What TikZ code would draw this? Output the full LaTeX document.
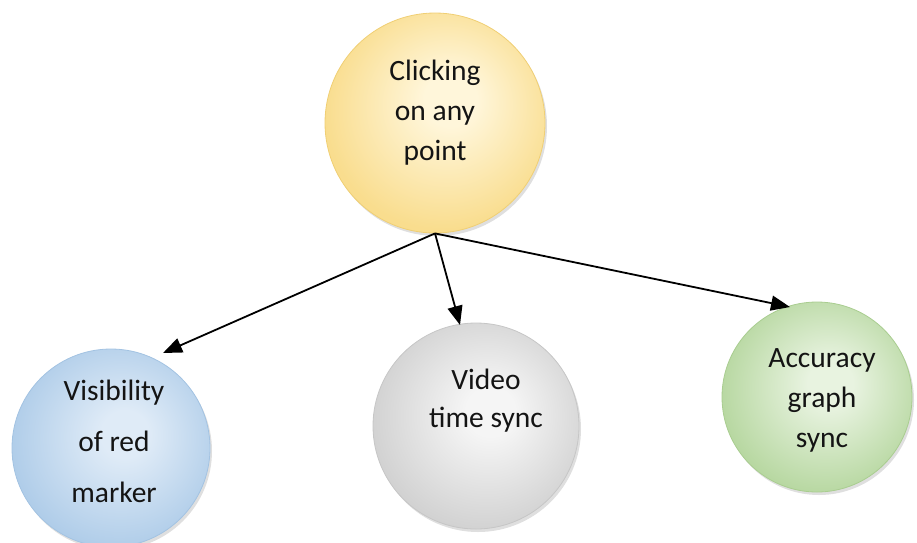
\documentclass[tikz,border=0pt]{standalone}
\usepackage{fontspec}
\setmainfont{Carlito}
\usetikzlibrary{arrows.meta,shadows}
\definecolor{yin}{HTML}{FFF6DA}
\definecolor{yout}{HTML}{F9DD8E}
\definecolor{yedge}{HTML}{F0CF74}
\definecolor{bin}{HTML}{DFEBF7}
\definecolor{bout}{HTML}{B0CDE9}
\definecolor{bedge}{HTML}{A3C3E2}
\definecolor{gin}{HTML}{F5F5F5}
\definecolor{gout}{HTML}{D2D2D2}
\definecolor{gedge}{HTML}{C6C6C6}
\definecolor{nin}{HTML}{E8F3E0}
\definecolor{nout}{HTML}{B8D8A2}
\definecolor{nedge}{HTML}{A9CD90}
\definecolor{txtc}{HTML}{141414}
\pgfdeclareradialshading{yshade}{\pgfpoint{4bp}{6bp}}{color(0bp)=(yin); color(6bp)=(yin); color(27bp)=(yout); color(50bp)=(yout)}
\pgfdeclareradialshading{bshade}{\pgfpoint{4bp}{4bp}}{color(0bp)=(bin); color(6bp)=(bin); color(27bp)=(bout); color(50bp)=(bout)}
\pgfdeclareradialshading{gshade}{\pgfpoint{4bp}{4bp}}{color(0bp)=(gin); color(6bp)=(gin); color(27bp)=(gout); color(50bp)=(gout)}
\pgfdeclareradialshading{nshade}{\pgfpoint{4bp}{4bp}}{color(0bp)=(nin); color(6bp)=(nin); color(27bp)=(nout); color(50bp)=(nout)}
\begin{document}
\begin{tikzpicture}[x=1pt,y=-1pt,
  circ/.style={circle, inner sep=0pt, line width=0.8pt,
    drop shadow={opacity=0.25, shadow xshift=2pt, shadow yshift=-3pt}},
  txt/.style={align=center, text=txtc, inner sep=0pt},
  conn/.style={line width=1.8pt, -{Triangle[length=19pt,width=15pt]}}]
\useasboundingbox (0,0) rectangle (917,542);
\node[circ, draw=yedge, shading=yshade, minimum size=220pt] (top) at (435,123) {};
\node[txt, font=\fontsize{29.5}{40}\selectfont] (toptext) at (435,113) {Clicking\\on any\\point};
\node[circ, draw=bedge, shading=bshade, minimum size=198pt] (blue) at (111,448) {};
\node[txt, font=\fontsize{29.5}{51}\selectfont] (bluetext) at (114,441) {Visibility\\of red\\marker};
\node[circ, draw=gedge, shading=gshade, minimum size=206pt] (gray) at (476,426) {};
\node[txt, font=\fontsize{29.5}{38}\selectfont] (graytext) at (486,401) {Video\\time sync};
\node[circ, draw=nedge, shading=nshade, minimum size=190pt] (green) at (817,397) {};
\node[txt, font=\fontsize{29.5}{40}\selectfont] (greentext) at (822,400) {Accuracy\\graph\\sync};
\coordinate (bt) at (163,353);
\coordinate (gt) at (460,325);
\coordinate (nt) at (790,307);
\draw[conn] (top.south) -- (bt);
\draw[conn] (top.south) -- (gt);
\draw[conn] (top.south) -- (nt);
\end{tikzpicture}
\end{document}
